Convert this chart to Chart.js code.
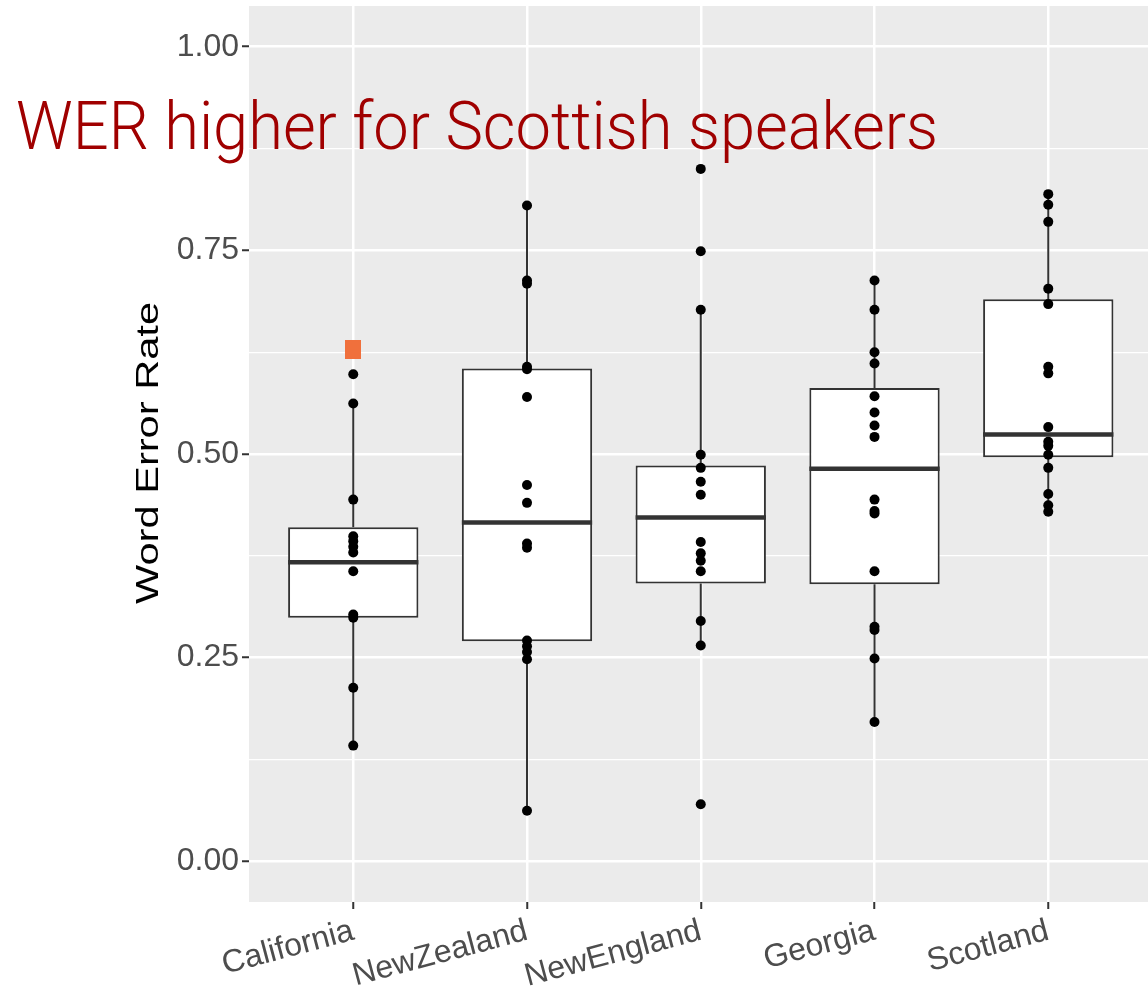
<!DOCTYPE html>
<html>
<head>
<meta charset="utf-8">
<title>Word Error Rate by dialect region</title>
<script src="https://cdn.jsdelivr.net/npm/chart.js@4.4.1/dist/chart.umd.min.js"></script>
<style>
  html, body { margin: 0; padding: 0; background: #ffffff; }
  canvas { display: block; }
</style>
</head>
<body>
<canvas id="chart" width="1148" height="986"></canvas>
<script>
// ---- data -----------------------------------------------------------
const regions = ['California', 'NewZealand', 'NewEngland', 'Georgia', 'Scotland'];

// five-number summaries of each box
const whiskerLow  = [0.142, 0.062, 0.265, 0.171, 0.429];
const quartile1   = [0.299, 0.270, 0.341, 0.340, 0.496];
const medians     = [0.367, 0.416, 0.422, 0.482, 0.524];
const quartile3   = [0.410, 0.605, 0.486, 0.581, 0.690];
const whiskerHigh = [0.562, 0.805, 0.677, 0.713, 0.819];

// per-speaker word error rates
const werCalifornia = [0.598, 0.562, 0.444, 0.399, 0.393, 0.386, 0.379, 0.356, 0.303, 0.299, 0.213, 0.142];
const werNewZealand = [0.805, 0.713, 0.709, 0.607, 0.604, 0.570, 0.462, 0.440, 0.390, 0.385, 0.271, 0.264, 0.257, 0.248, 0.062];
const werNewEngland = [0.850, 0.749, 0.677, 0.499, 0.483, 0.466, 0.450, 0.392, 0.378, 0.369, 0.356, 0.295, 0.265, 0.070];
const werGeorgia    = [0.713, 0.677, 0.625, 0.611, 0.571, 0.551, 0.535, 0.521, 0.444, 0.430, 0.427, 0.356, 0.288, 0.284, 0.249, 0.171];
const werScotland   = [0.819, 0.806, 0.785, 0.703, 0.684, 0.607, 0.599, 0.533, 0.515, 0.510, 0.499, 0.483, 0.451, 0.437, 0.429];

// the highlighted speaker
const highlightRegion = 'California';
const highlightWer = 0.628;

const yTicksMajor = [0, 0.25, 0.5, 0.75, 1];
const yTicksMinor = [0.125, 0.375, 0.625, 0.875];

const yAxisTitle = 'Word Error Rate';
const headline = 'WER higher for Scottish speakers';

// ---- derived datasets -----------------------------------------------
const werByRegion = [werCalifornia, werNewZealand, werNewEngland, werGeorgia, werScotland];
const pos = i => i + 1;

const boxData = regions.map((_, i) => ({ x: pos(i), y: [quartile1[i], quartile3[i]] }));

const whiskerData = [];
regions.forEach((_, i) => {
  whiskerData.push({ x: pos(i), y: whiskerLow[i] }, { x: pos(i), y: quartile1[i] }, { x: pos(i), y: null });
  whiskerData.push({ x: pos(i), y: quartile3[i] }, { x: pos(i), y: whiskerHigh[i] }, { x: pos(i), y: null });
});

const pointData = [];
werByRegion.forEach((vals, i) => vals.forEach(v => pointData.push({ x: pos(i), y: v })));

const highlightData = [{ x: pos(regions.indexOf(highlightRegion)), y: highlightWer }];

// square marker for the highlighted speaker
const marker = document.createElement('canvas');
marker.width = 16; marker.height = 19;
(function () {
  const m = marker.getContext('2d');
  m.fillStyle = '#F0703C';
  m.fillRect(0, 0, 16, 19);
})();

const isMajor = v => yTicksMajor.some(t => Math.abs(t - v) < 1e-9);

const BOX_DATASET = 1;

// ---- plugin: panel background, medians, axis title, headline --------
const decorations = {
  id: 'decorations',
  beforeDraw(chart) {
    const { ctx, chartArea: a } = chart;
    ctx.save();
    ctx.fillStyle = '#ffffff';
    ctx.fillRect(0, 0, chart.width, chart.height);
    ctx.fillStyle = '#EBEBEB';
    ctx.fillRect(a.left, a.top, a.right - a.left, a.bottom - a.top);
    ctx.restore();
  },
  afterDatasetDraw(chart, args) {
    if (args.index !== BOX_DATASET) return;
    const { ctx } = chart;
    const yScale = chart.scales.y;
    const bars = chart.getDatasetMeta(BOX_DATASET).data;
    ctx.save();
    ctx.strokeStyle = '#333333';
    ctx.lineWidth = 4.5;
    bars.forEach((bar, i) => {
      const y = yScale.getPixelForValue(medians[i]);
      ctx.beginPath();
      ctx.moveTo(bar.x - bar.width / 2, y);
      ctx.lineTo(bar.x + bar.width / 2, y);
      ctx.stroke();
    });
    ctx.restore();
  },
  afterDraw(chart) {
    const { ctx, chartArea: a } = chart;
    // y-axis title
    ctx.save();
    ctx.fillStyle = '#000000';
    ctx.font = '32px "Liberation Sans", Arial, sans-serif';
    ctx.textAlign = 'center';
    ctx.textBaseline = 'alphabetic';
    ctx.translate(158, (a.top + a.bottom) / 2 - 1);
    ctx.rotate(-Math.PI / 2);
    ctx.scale(1.3, 1);
    ctx.fillText(yAxisTitle, 0, 0);
    ctx.restore();

    // headline
    ctx.save();
    ctx.fillStyle = '#A00000';
    ctx.font = '300 66px Roboto, "Liberation Sans", Arial, sans-serif';
    ctx.textAlign = 'left';
    ctx.textBaseline = 'alphabetic';
    const w = ctx.measureText(headline).width;
    ctx.translate(16, 149);
    ctx.scale(922 / w, 1);
    ctx.fillText(headline, 0, 0);
    ctx.restore();
  }
};

Chart.defaults.font.family = '"Liberation Sans", Arial, Helvetica, sans-serif';

new Chart(document.getElementById('chart'), {
  type: 'bar',
  data: {
    datasets: [
      {
        type: 'line',
        data: whiskerData,
        borderColor: '#333333',
        borderWidth: 2,
        pointRadius: 0,
        spanGaps: false,
        fill: false,
        order: 4
      },
      {
        type: 'bar',
        data: boxData,
        backgroundColor: '#ffffff',
        borderColor: '#333333',
        borderWidth: 2,
        borderSkipped: false,
        barPercentage: 0.75,
        categoryPercentage: 1.0,
        grouped: false,
        order: 3
      },
      {
        type: 'scatter',
        data: pointData,
        pointRadius: 5,
        pointBackgroundColor: '#000000',
        pointBorderWidth: 0,
        order: 1
      },
      {
        type: 'scatter',
        data: highlightData,
        pointStyle: marker,
        pointRadius: 9,
        order: 0
      }
    ]
  },
  options: {
    responsive: false,
    animation: false,
    devicePixelRatio: 1,
    events: [],
    layout: { autoPadding: false, padding: { top: 6, right: 0, bottom: 0, left: 0 } },
    plugins: {
      legend: { display: false },
      tooltip: { enabled: false },
      title: { display: false }
    },
    scales: {
      x: {
        type: 'linear',
        offset: false,
        min: 0.4,
        max: 5.574,
        afterBuildTicks: s => { s.ticks = regions.map((_, i) => ({ value: pos(i) })); },
        afterFit: s => {
          s.height = 84;
          s.paddingLeft = 0; s.paddingRight = 0;
        },
        ticks: {
          callback: v => regions[Math.round(v) - 1] ?? '',
          autoSkip: false,
          minRotation: 15,
          maxRotation: 15,
          color: '#4D4D4D',
          font: { size: 32 },
          padding: 3
        },
        grid: {
          offset: false,
          color: '#FFFFFF',
          lineWidth: 2.5,
          tickColor: '#333333',
          tickLength: 7,
          tickWidth: 2
        },
        border: { display: false }
      },
      y: {
        min: -0.05,
        max: 1.05,
        afterBuildTicks: s => {
          s.ticks = [...yTicksMajor, ...yTicksMinor].sort((p, q) => p - q).map(v => ({ value: v }));
        },
        afterFit: s => {
          s.width = 249;
          s.paddingTop = 0; s.paddingBottom = 0;
        },
        ticks: {
          callback: v => (isMajor(v) ? v.toFixed(2) : ''),
          color: '#4D4D4D',
          font: { size: 32 },
          padding: 3
        },
        grid: {
          color: '#FFFFFF',
          lineWidth: c => (c.tick && isMajor(c.tick.value) ? 2.5 : 1.3),
          tickColor: c => (c.tick && isMajor(c.tick.value) ? '#333333' : 'rgba(0,0,0,0)'),
          tickLength: 7,
          tickWidth: 2
        },
        border: { display: false }
      }
    }
  },
  plugins: [decorations]
});
</script>
</body>
</html>
